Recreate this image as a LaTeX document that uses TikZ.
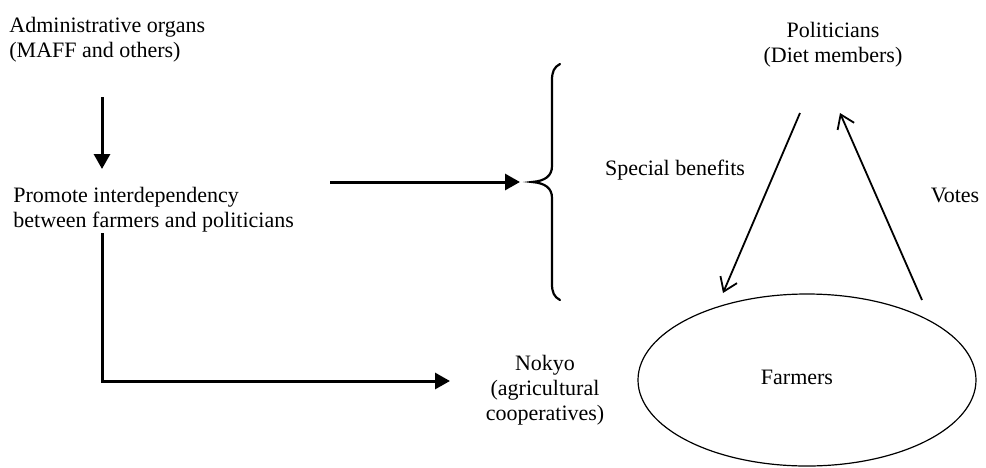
\documentclass[tikz,border=0pt]{standalone}
\usepackage{fontspec}
\setmainfont{Liberation Serif}
\usetikzlibrary{arrows.meta,shapes.geometric}
\begin{document}
\begin{tikzpicture}[x=0.5pt,y=-0.5pt,
  txt/.style={inner sep=0pt, font=\fontsize{11pt}{12.5pt}\selectfont},
  thickarrow/.style={line width=1.5pt,-{Triangle[length=7.5pt,width=8pt]}},
  thinarrow/.style={line width=0.9pt,-{Straight Barb[length=6.5pt,width=9pt]}},
  bracestyle/.style={line width=1.1pt, line cap=round}]
\useasboundingbox (0,0) rectangle (986,467);
% texts (base anchor = baseline of last line)
\node[txt, align=left, anchor=base west] (admin) at (9,57) {Administrative organs\\(MAFF and others)};
\node[txt, align=left, anchor=base west] (promote) at (13,227) {Promote interdependency\\between farmers and politicians};
\node[txt, align=center, anchor=base] (politicians) at (833,62) {Politicians\\(Diet members)};
\node[txt, anchor=base] (benefits) at (675,175) {Special benefits};
\node[txt, anchor=base] (votes) at (955,202) {Votes};
\node[txt, align=center, anchor=base] (nokyo) at (545,420) {Nokyo\\(agricultural\\cooperatives)};
\node[draw, ellipse, line width=0.6pt, minimum width=169pt, minimum height=86pt, inner sep=0pt] (farmers) at (807,380) {};
\node[txt, anchor=base] (farmerstxt) at (797,384) {Farmers};
% coordinates
\coordinate (adminout) at (102,97);
\coordinate (promotein) at (102,169);
\coordinate (promoteout) at (330,182);
\coordinate (bracein) at (520,182);
\coordinate (promotedown) at (102,233);
\coordinate (corner) at (102,381);
\coordinate (nokyoin) at (450,381);
\coordinate (polout) at (800,113);
\coordinate (farmin) at (723,293);
\coordinate (farmout) at (922,300);
\coordinate (polin) at (840,113);
% brace
\draw[bracestyle] (560,64) .. controls (554,67) and (552,72) .. (552,80)
  -- (552,166) .. controls (552,176) and (545,181) .. (532,182)
  .. controls (545,183) and (552,188) .. (552,198)
  -- (552,284) .. controls (552,292) and (554,297) .. (560,300);
% arrows
\draw[thickarrow] (adminout) -- (promotein);
\draw[thickarrow] (promoteout) -- (bracein);
\draw[thickarrow] (promotedown) -- (corner) -- (nokyoin);
\draw[thinarrow] (polout) -- (farmin);
\draw[thinarrow] (farmout) -- (polin);
\end{tikzpicture}
\end{document}
